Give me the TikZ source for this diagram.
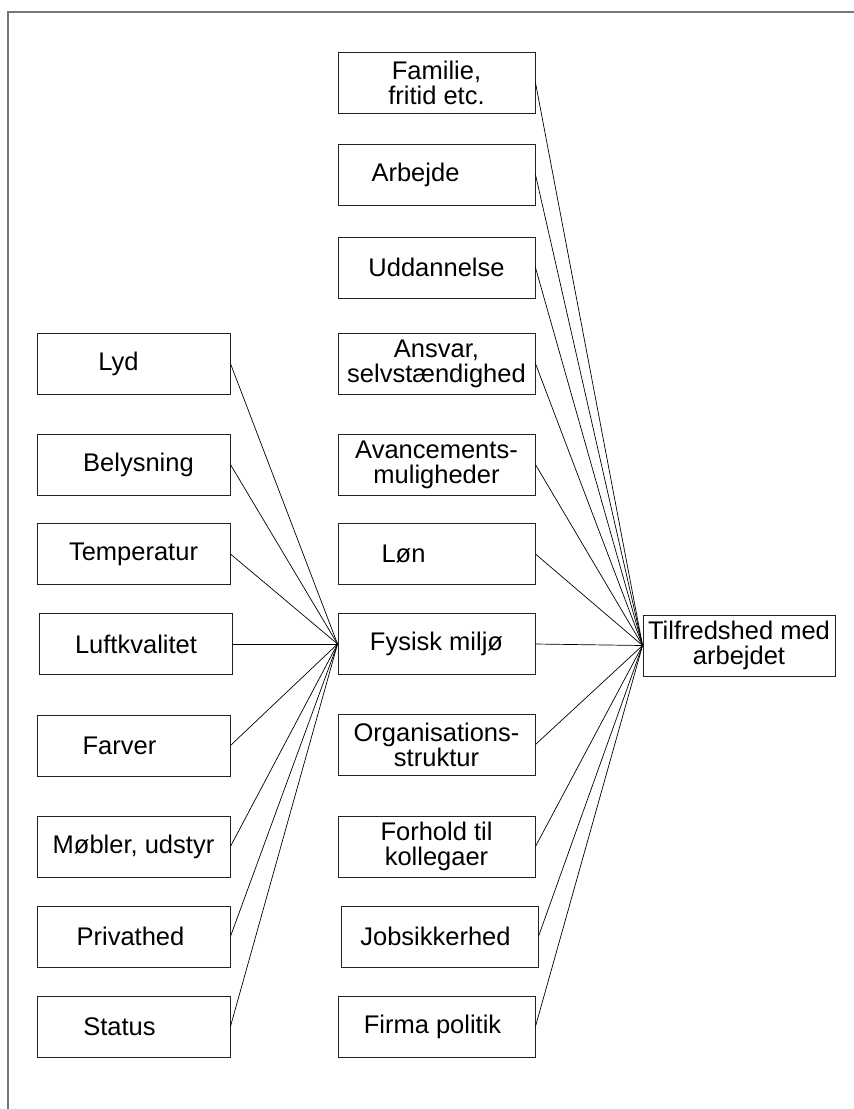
\documentclass[tikz,border=0pt]{standalone}
\usepackage{fontspec}
\setmainfont{Liberation Sans}
\usepackage{tikz}
\usetikzlibrary{positioning}
\definecolor{framegray}{RGB}{120, 120, 120}
\definecolor{boxline}{RGB}{35, 35, 35}
\newcommand{\nudge}[1]{\hspace*{#1}}

\tikzset{
    factor/.style={draw=boxline, line width=0.9pt, minimum width=193pt, minimum height=61pt,
        inner sep=2pt, align=center, font=\fontsize{25.5}{25}\selectfont},
    midfactor/.style={factor, minimum width=197pt},
    link/.style={line width=0.7pt, black},
}

\begin{document}
\begin{tikzpicture}[x=1pt, y=-1pt]
    \useasboundingbox (0,0) rectangle (854,1109);
    % frame
    \draw[framegray, line width=2.2pt] (8,1109) -- (8,12) -- (854,12);

    % physical environment factors
    \node[factor] (lyd) at (133.5,363.5) {\nudge{-30pt}Lyd};
    \node[factor] (belysning) at (133.5,464.5) {\nudge{10pt}Belysning};
    \node[factor] (temperatur) at (133.5,554) {Temperatur};
    \node[factor] (luft) at (136,644) {Luftkvalitet};
    \node[factor] (farver) at (133.5,745.5) {\nudge{-28pt}Farver};
    \node[factor] (moebler) at (133.5,846.5) {Møbler, udstyr};
    \node[factor] (privat) at (133.5,936.5) {\nudge{-6pt}Privathed};
    \node[factor] (status) at (133.5,1026.5) {\nudge{-28pt}Status};

    % job factors
    \node[midfactor] (familie) at (436.5,82.5) {Familie,\\fritid etc.};
    \node[midfactor] (arbejde) at (436.5,174.5) {\nudge{-42pt}Arbejde};
    \node[midfactor] (uddannelse) at (436.5,267.5) {Uddannelse};
    \node[midfactor] (ansvar) at (436.5,363.5) {Ansvar,\\selvstændighed};
    \node[midfactor] (avancement) at (436.5,464.5) {Avancements-\\muligheder};
    \node[midfactor] (loen) at (436.5,554) {\nudge{-66pt}Løn};
    \node[midfactor] (fysisk) at (436.5,644) {Fysisk miljø};
    \node[midfactor] (organisation) at (436.5,744.5) {Organisations-\\struktur};
    \node[midfactor] (kollegaer) at (436.5,846.5) {Forhold til\\kollegaer};
    \node[midfactor] (jobsikker) at (439.5,936.5) {\nudge{-8pt}Jobsikkerhed};
    \node[midfactor] (firma) at (436.5,1026.5) {\nudge{-8pt}Firma politik};

    \node[factor, minimum width=192pt, inner xsep=1pt] (tilfreds) at (739,645.5) {Tilfredshed med\\arbejdet};

    % links into physical environment
    \draw[link] (lyd.east) -- (fysisk.west);
    \draw[link] (belysning.east) -- (fysisk.west);
    \draw[link] (temperatur.east) -- (fysisk.west);
    \draw[link] (luft.east) -- (fysisk.west);
    \draw[link] (farver.east) -- (fysisk.west);
    \draw[link] (moebler.east) -- (fysisk.west);
    \draw[link] (privat.east) -- (fysisk.west);
    \draw[link] (status.east) -- (fysisk.west);

    % links into satisfaction
    \draw[link] (familie.east) -- (tilfreds.west);
    \draw[link] (arbejde.east) -- (tilfreds.west);
    \draw[link] (uddannelse.east) -- (tilfreds.west);
    \draw[link] (ansvar.east) -- (tilfreds.west);
    \draw[link] (avancement.east) -- (tilfreds.west);
    \draw[link] (loen.east) -- (tilfreds.west);
    \draw[link] (fysisk.east) -- (tilfreds.west);
    \draw[link] (organisation.east) -- (tilfreds.west);
    \draw[link] (kollegaer.east) -- (tilfreds.west);
    \draw[link] (jobsikker.east) -- (tilfreds.west);
    \draw[link] (firma.east) -- (tilfreds.west);
\end{tikzpicture}
\end{document}
